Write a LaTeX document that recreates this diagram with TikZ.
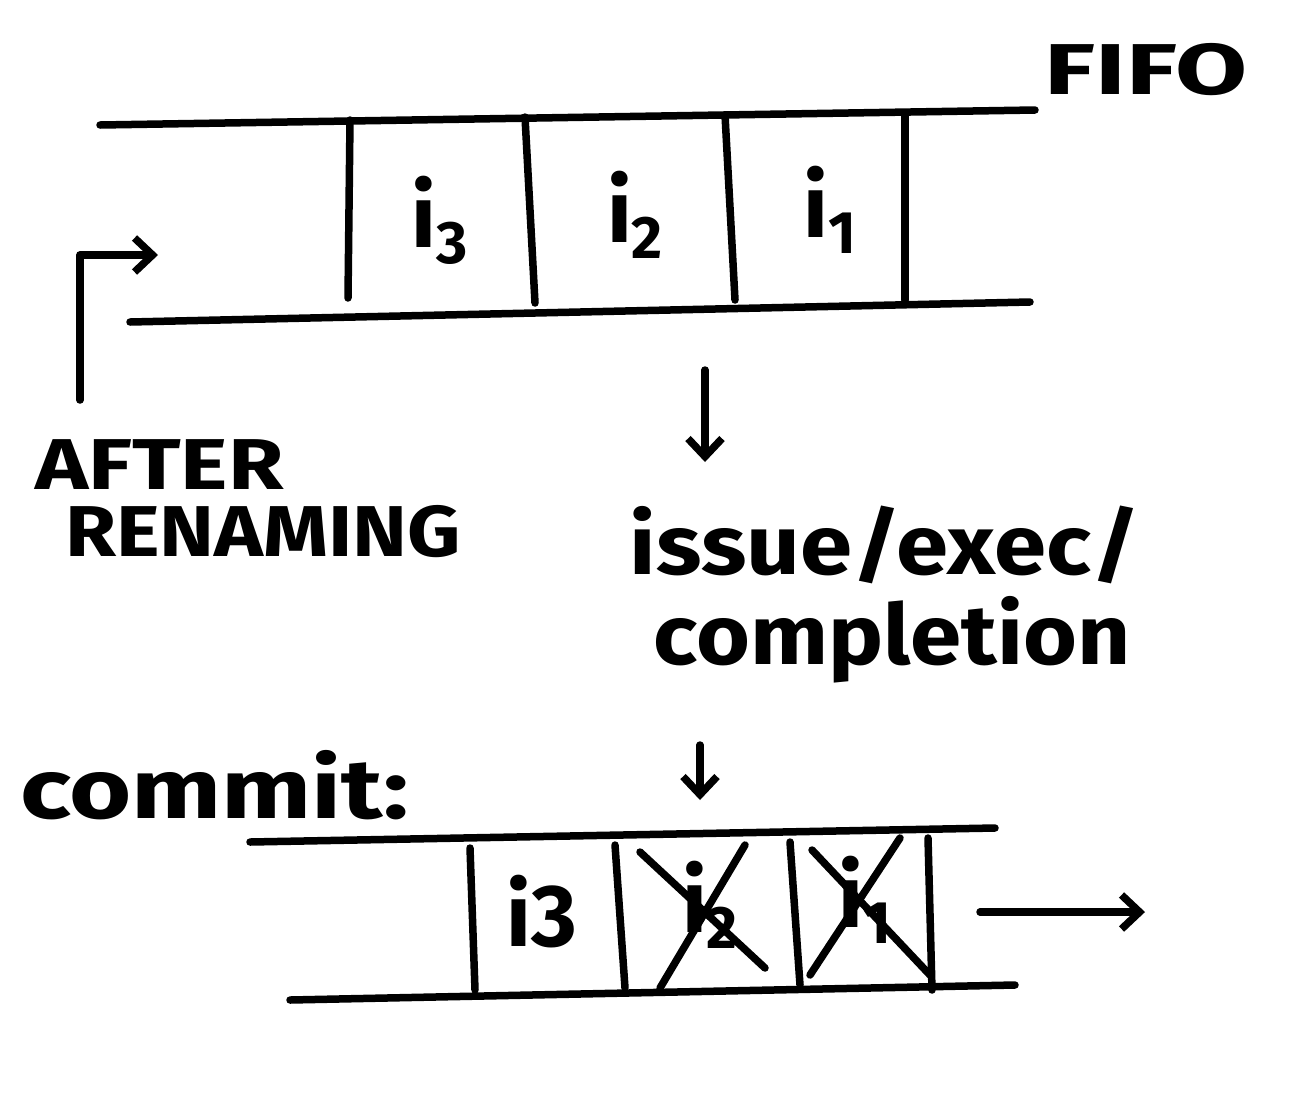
\documentclass[tikz,border=0pt]{standalone}
\usepackage{fontspec}
\setmainfont{Fira Sans}
\usetikzlibrary{arrows.meta}
\tikzset{
  pen/.style={line width=7.5pt, line cap=round, line join=round},
  arr/.style={pen, -{Straight Barb[length=18pt,width=34pt,line width=7.5pt]}},
  lbl/.style={inner sep=0pt, font=\bfseries\fontsize{72}{72}\selectfont},
  cell/.style={inner sep=0pt, font=\bfseries\fontsize{88}{88}\selectfont},
  big/.style={inner sep=0pt, font=\bfseries\fontsize{84}{84}\selectfont}
}
\newcommand{\isub}[1]{i\raisebox{-16pt}{\fontsize{60}{60}\selectfont #1}}
\begin{document}
\begin{tikzpicture}[x=1pt,y=-1pt]
\useasboundingbox (0,0) rectangle (1303,1101);
\fill[white] (0,0) rectangle (1303,1101);
% top FIFO
\draw[pen] (100,125) -- (1035,110);
\draw[pen] (130,322) -- (1030,302);
\draw[pen] (350,120) -- (348,298);
\draw[pen] (525,117) -- (535,303);
\draw[pen] (725,115) -- (735,300);
\draw[pen] (905,115) -- (905,300);
\node[cell] (t3) at (440,220) {\isub{3}};
\node[cell] (t2) at (635,215) {\isub{2}};
\node[cell] (t1) at (830,210) {\isub{1}};
\node[lbl] (fifo) at (1146,70) {\scalebox{1.45}[1]{FIFO}};
% after renaming arrow
\node[lbl, anchor=west] (after) at (35,465) {\scalebox{1.25}[1]{AFTER}};
\node[lbl, anchor=west] (ren) at (65,532) {\scalebox{1.15}[1]{RENAMING}};
\coordinate (ar0) at (80,400);
\coordinate (ar1) at (158,255);
\draw[arr] (ar0) |- (ar1);
% middle
\coordinate (d1a) at (705,370);
\node[big] (issue) at (885,545) {\scalebox{1.12}[1]{issue/exec/}};
\node[big] (compl) at (892,640) {\scalebox{1.1}[1]{completion}};
\draw[arr] (d1a) -- (705,462);
\node[big, anchor=west] (commit) at (20,785) {\scalebox{1.27}[1]{commit:}};
\coordinate (d2a) at (700,745);
\draw[arr] (d2a) -- (700,800);
% bottom FIFO
\draw[pen] (250,842) -- (995,828);
\draw[pen] (290,1000) -- (1015,985);
\draw[pen] (470,848) -- (475,990);
\draw[pen] (615,845) -- (625,988);
\draw[pen] (790,842) -- (800,985);
\draw[pen] (928,838) -- (932,990);
\node[cell] (b3) at (542,912) {i3};
\node[cell] (b2) at (710,905) {\isub{2}};
\node[cell] (b1) at (865,900) {\isub{1}};
\draw[pen] (640,852) -- (765,968);
\draw[pen] (745,845) -- (660,988);
\draw[pen] (812,850) -- (930,975);
\draw[pen] (900,838) -- (810,975);
\coordinate (ra) at (980,912);
\draw[arr] (ra) -- (1145,912);
\end{tikzpicture}
\end{document}
